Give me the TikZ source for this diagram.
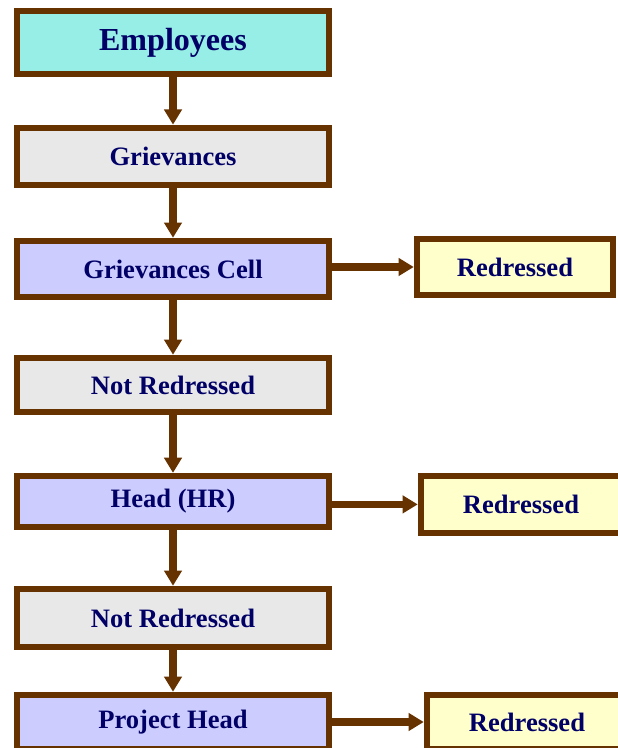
\documentclass[tikz,border=0pt]{standalone}
\usepackage{fontspec}
\setmainfont{Liberation Serif}
\usepackage{xcolor}
\usepackage{tikz}
\usetikzlibrary{positioning,calc,arrows.meta}

\definecolor{edgebrown}{RGB}{102,51,0}
\definecolor{textnavy}{RGB}{0,0,102}
\definecolor{empfill}{RGB}{150,238,230}
\definecolor{grayfill}{RGB}{232,232,232}
\definecolor{lavfill}{RGB}{204,204,255}
\definecolor{yelfill}{RGB}{255,255,204}

\begin{document}
\begin{tikzpicture}[
    box/.style={draw=edgebrown,line width=4.6pt,text=textnavy,minimum width=7.8cm,
        font=\bfseries\fontsize{18.9}{20}\selectfont},
    sidebox/.style={box,fill=yelfill,minimum width=5cm},
    flow/.style={edgebrown,line width=5pt,-{Triangle[length=0.38cm,width=0.43cm]}}
]
    \useasboundingbox[fill=white] (0,0) rectangle (15.45,18.7);
    % Main column
    \node[box,fill=empfill,minimum height=1.575cm,font=\bfseries\fontsize{22.8}{24}\selectfont] (emp) at (4.325,17.64) {Employees};
    \node[box,fill=grayfill,minimum height=1.425cm] (griev) at (4.325,14.79) {Grievances};
    \node[box,fill=lavfill,minimum height=1.4cm] (gcell) at (4.325,11.975) {Grievances Cell};
    \node[box,fill=grayfill,minimum height=1.35cm] (notred1) at (4.325,9.075) {Not Redressed};
    \node[box,fill=lavfill,minimum height=1.275cm] (hr) at (4.325,6.16) {Head (HR)};
    \node[box,fill=grayfill,minimum height=1.45cm] (notred2) at (4.325,3.25) {Not Redressed};
    \node[box,fill=lavfill,minimum height=1.35cm] (phead) at (4.325,0.65) {Project Head};
    % Redressed boxes
    \node[sidebox,minimum width=4.9cm,minimum height=1.4cm] (red1) at (12.875,12.025) {Redressed};
    \node[sidebox,minimum height=1.425cm] (red2) at (13.025,6.09) {Redressed};
    \node[sidebox,minimum height=1.35cm] (red3) at (13.175,0.65) {Redressed};
    % Arrows down
    \draw[flow] (emp) -- (griev);
    \draw[flow] (griev) -- (gcell);
    \draw[flow] (gcell) -- (notred1);
    \draw[flow] (notred1) -- (hr);
    \draw[flow] (hr) -- (notred2);
    \draw[flow] (notred2) -- (phead);
    % Arrows right
    \draw[flow] (gcell.east |- red1) -- (red1.west);
    \draw[flow] (hr.east |- red2) -- (red2.west);
    \draw[flow] (phead.east |- red3) -- (red3.west);
\end{tikzpicture}
\end{document}
